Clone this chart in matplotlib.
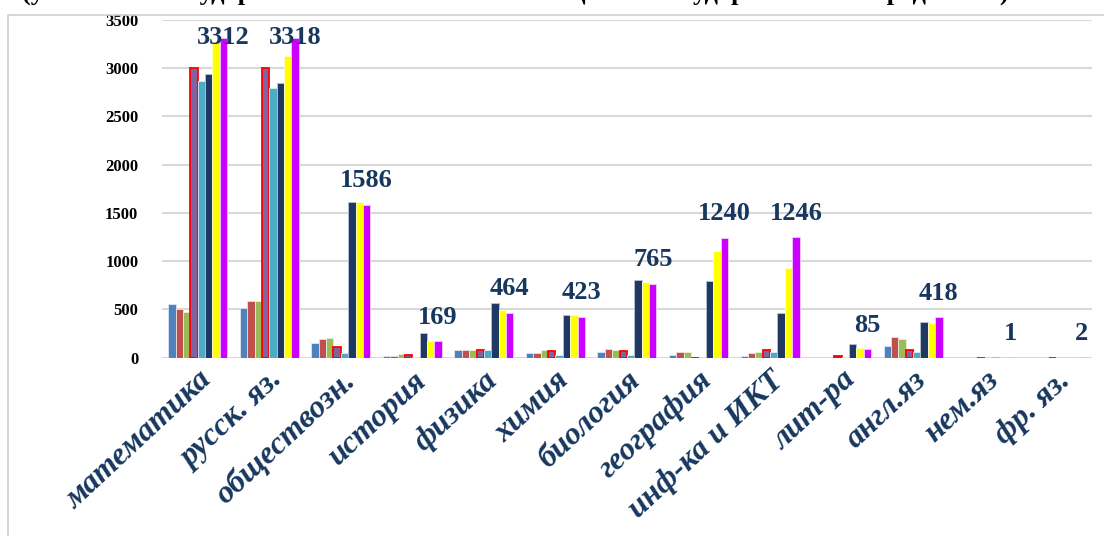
import numpy as np
import matplotlib
matplotlib.use('Agg')
import matplotlib.pyplot as plt
from matplotlib.patches import Rectangle

subjects = ['математика', 'русск. яз.', 'обществозн.', 'история', 'физика', 'химия',
            'биология', 'география', 'инф-ка и ИКТ', 'лит-ра', 'англ.яз', 'нем.яз', 'фр. яз.']

s1 = [553, 512, 152, 17, 73, 48, 62, 21, 17, 7, 121, 0, 0]
s2 = [502, 588, 190, 17, 73, 48, 87, 62, 48, 7, 215, 0, 0]
s3 = [474, 588, 204, 35, 83, 73, 73, 62, 62, 0, 190, 0, 0]
s4 = [3000, 3000, 104, 28, 83, 69, 66, 0, 76, 17, 83, 0, 0]
s5 = [2866, 2793, 48, 7, 83, 21, 21, 0, 62, 7, 59, 0, 0]
s6 = [2939, 2845, 1617, 256, 567, 436, 807, 792, 464, 138, 370, 7, 0]
s7 = [3270, 3125, 1610, 176, 495, 436, 782, 1104, 931, 97, 363, 0, 0]
s8 = [3312, 3318, 1586, 169, 464, 423, 765, 1240, 1246, 85, 418, 1, 2]

series = [s1, s2, s3, s4, s5, s6, s7, s8]
colors = ['#4F81BD', '#C0504D', '#9BBB59', '#8064A2', '#4BACC6', '#1F3864', '#FFFF00', '#CC00FF']
edges = ['#DCE6F2', '#F2DCDB', '#EBF1DE', '#FF0000', '#DBEEF4', '#B9C4D6', '#FFFFCC', '#F0CCFF']

fig = plt.figure(figsize=(11.04, 5.36), dpi=100)
ax = fig.add_axes([0.1467, 0.333, 0.9891 - 0.1467, 0.9627 - 0.333])

# frame around the chart
fig.patches.append(Rectangle((8 / 1104, -0.1), 1.2, 1 - 15 / 536 + 0.1, transform=fig.transFigure,
                             fill=False, edgecolor='#D0D0D0', linewidth=1.2))

# title, cut off at the top edge as in the source picture
fig.text(515 / 1104, 1 - 1 / 536, '(участники государственной итоговой аттестации по государственным предметам)',
         ha='center', va='baseline', fontsize=19, fontweight='bold', family='Liberation Serif')

x = np.arange(len(subjects))
w = 0.103
for i, vals in enumerate(series):
    lw = 1.3 if i == 3 else 0.6
    ax.bar(x + (i - 3.5) * w, vals, w, color=colors[i], edgecolor=edges[i], linewidth=lw, zorder=3)

navy = '#17375E'
for xi, v in zip(x, s8):
    y = min(v + 250, 3320)
    ax.text(xi + 3.5 * w, y, str(v), ha='center', va='center', fontsize=19, fontweight='bold',
            family='Liberation Serif', color=navy, zorder=5)

ax.set_xlim(-0.5, len(subjects) - 0.5)
ax.set_ylim(0, 3500)
ax.set_yticks(range(0, 3501, 500))
ax.yaxis.grid(True, color='#D9D9D9', linewidth=1.5, zorder=0)
ax.set_axisbelow(True)
for sp in ['top', 'right', 'left', 'bottom']:
    ax.spines[sp].set_visible(False)
ax.tick_params(axis='both', length=0)
ax.tick_params(axis='y', pad=17)
for lab in ax.get_yticklabels():
    lab.set_family('Liberation Serif')
    lab.set_fontweight('bold')
    lab.set_fontsize(12)

ax.set_xticks(x)
ax.set_xticklabels(subjects, rotation=43, ha='right', rotation_mode='anchor',
                   fontsize=23, fontweight='bold', fontstyle='italic', family='Liberation Serif', color=navy)
ax.tick_params(axis='x', pad=6)

fig.savefig('out.png', dpi=100)
